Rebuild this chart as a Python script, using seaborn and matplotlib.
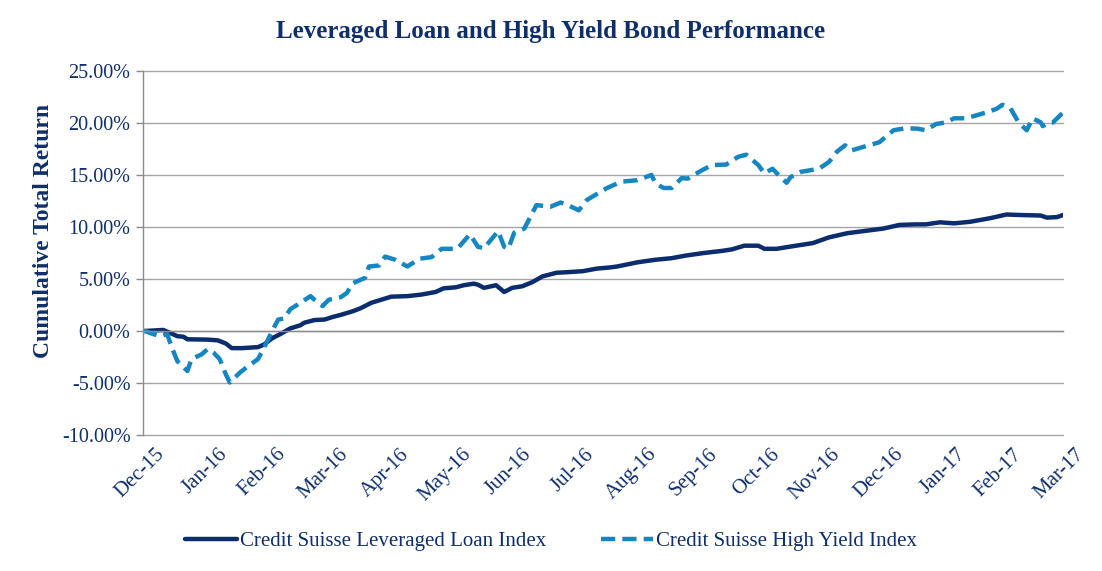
import matplotlib
matplotlib.use('Agg')
import matplotlib.pyplot as plt
import matplotlib.ticker as ticker
import matplotlib.transforms as mtrans
import pandas as pd
import seaborn as sns

sns.set_theme(style='white')
plt.rcParams['font.family'] = ['Liberation Serif', 'DejaVu Serif']

NAVY = '#0f2f6b'
LOAN_COLOR = '#0b2d6e'
HY_COLOR = '#1686c2'

start = pd.Timestamp('2015-12-31')

# days since 2015-12-31 and cumulative return (%)
loan_days = [0, 1, 10, 13, 17, 20, 22, 32, 37, 41, 44, 49, 57, 60, 64, 68, 73, 78,
             80, 85, 90, 94, 98, 104, 108, 113, 118, 123, 131, 138, 145, 149, 155,
             159, 164, 166, 169, 175, 179, 183, 188, 193, 198, 205, 210, 218, 225,
             231, 235, 245, 254, 262, 269, 278, 287, 292, 298, 305, 308, 314, 322,
             332, 340, 349, 359, 367, 375, 383, 388, 395, 402, 410, 420, 428, 435,
             445, 448, 453, 456]
loan_ret = [0.0, 0.0, 0.1, -0.15, -0.5, -0.55, -0.8, -0.83, -0.9, -1.2, -1.65, -1.65,
            -1.55, -1.3, -0.7, -0.3, 0.25, 0.55, 0.8, 1.05, 1.1, 1.35, 1.55, 1.9, 2.2,
            2.7, 3.0, 3.3, 3.35, 3.5, 3.75, 4.1, 4.2, 4.4, 4.55, 4.45, 4.15, 4.4, 3.75,
            4.15, 4.3, 4.7, 5.25, 5.6, 5.65, 5.75, 6.0, 6.1, 6.2, 6.6, 6.85, 7.0, 7.25,
            7.5, 7.7, 7.85, 8.2, 8.2, 7.9, 7.9, 8.15, 8.45, 9.0, 9.4, 9.65, 9.85, 10.2,
            10.25, 10.25, 10.45, 10.35, 10.5, 10.85, 11.2, 11.15, 11.1, 10.9, 10.95,
            11.15]

hy_days = [0, 1, 5, 9, 12, 14, 17, 22, 24, 29, 32, 35, 38, 41, 43, 48, 53, 57, 60,
           64, 67, 70, 73, 78, 83, 85, 89, 92, 98, 101, 104, 110, 112, 117, 120, 125,
           131, 137, 143, 148, 155, 156, 162, 166, 169, 176, 179, 181, 184, 189, 195,
           202, 207, 210, 216, 220, 230, 237, 245, 252, 254, 258, 262, 267, 270, 277,
           282, 289, 295, 299, 305, 308, 312, 316, 319, 321, 326, 335, 340, 344, 348,
           351, 357, 365, 372, 378, 384, 388, 393, 398, 402, 408, 416, 423, 426, 430,
           434, 438, 441, 445, 446, 449, 451, 456]
hy_ret = [0.0, 0.0, -0.3, -0.5, -0.3, -1.45, -2.9, -3.85, -2.7, -2.25, -1.75, -2.1,
          -2.7, -4.15, -4.95, -4.0, -3.25, -2.7, -1.6, 0.0, 1.1, 1.2, 2.1, 2.7, 3.35,
          3.0, 2.4, 3.0, 3.25, 3.65, 4.6, 5.1, 6.2, 6.3, 7.15, 6.85, 6.2, 6.95, 7.1,
          7.9, 7.9, 7.95, 9.3, 8.1, 7.95, 9.6, 8.1, 7.9, 9.45, 9.85, 12.1, 11.95, 12.35,
          12.15, 11.6, 12.6, 13.75, 14.35, 14.5, 15.0, 14.2, 13.75, 13.75, 14.7, 14.65,
          15.45, 15.95, 16.0, 16.75, 16.95, 15.95, 15.15, 15.6, 14.8, 14.25, 14.8, 15.3,
          15.6, 16.25, 17.25, 17.85, 17.35, 17.7, 18.15, 19.3, 19.5, 19.45, 19.3, 19.9,
          20.05, 20.45, 20.45, 20.9, 21.35, 21.75, 21.4, 20.05, 19.3, 20.45, 20.05,
          19.7, 20.05, 20.05, 21.0]

month_labels = ['Dec-15', 'Jan-16', 'Feb-16', 'Mar-16', 'Apr-16', 'May-16', 'Jun-16',
                'Jul-16', 'Aug-16', 'Sep-16', 'Oct-16', 'Nov-16', 'Dec-16', 'Jan-17',
                'Feb-17', 'Mar-17']

loan = pd.DataFrame({'date': start + pd.to_timedelta(loan_days, unit='D'),
                     'ret': [v / 100 for v in loan_ret]})
hy = pd.DataFrame({'date': start + pd.to_timedelta(hy_days, unit='D'),
                   'ret': [v / 100 for v in hy_ret]})
month_ends = pd.date_range('2015-12-31', periods=len(month_labels), freq='ME')

fig = plt.figure(figsize=(11.02, 5.71), dpi=100)
ax = fig.add_axes([0.1298, 0.2382, 0.8348, 0.6375])

sns.lineplot(data=loan, x='date', y='ret', ax=ax, color=LOAN_COLOR, lw=3.2,
             label='Credit Suisse Leveraged Loan Index')
sns.lineplot(data=hy, x='date', y='ret', ax=ax, color=HY_COLOR, lw=3.2,
             label='Credit Suisse High Yield Index')
ax.lines[1].set_dashes([3.2, 1.6])

ax.set_xlim(month_ends[0], month_ends[-1])
ax.set_ylim(-0.10, 0.25)
ax.yaxis.set_major_locator(ticker.MultipleLocator(0.05))
ax.yaxis.set_major_formatter(ticker.FuncFormatter(lambda v, p: f'{v * 100:.2f}%'))
ax.grid(axis='y', color='#a6a6a6', lw=1)
ax.set_axisbelow(True)
fig.canvas.draw()
for gl in ax.get_ygridlines():
    gl.set_clip_on(False)

# category axis crosses at zero, labels stay at the bottom
ax.spines['bottom'].set_position(('data', 0))
for s in ['top', 'right']:
    ax.spines[s].set_visible(False)
for s in ['left', 'bottom']:
    ax.spines[s].set_color('#8c8c8c')
    ax.spines[s].set_linewidth(1)

ax.set_xticks(month_ends)
ax.set_xticklabels(month_labels)
ax.tick_params(axis='x', direction='out', length=5, width=1, color='#8c8c8c',
               pad=77, labelsize=15, labelcolor=NAVY)
ax.tick_params(axis='y', direction='out', length=5, width=1, color='#8c8c8c',
               pad=4, labelsize=14.5, labelcolor=NAVY, left=True)
shift = mtrans.ScaledTranslation(12 / 100, 0, fig.dpi_scale_trans)
for lab in ax.get_xticklabels():
    lab.set_rotation(45)
    lab.set_ha('right')
    lab.set_rotation_mode('anchor')
    lab.set_transform(lab.get_transform() + shift)

ax.set_xlabel('')
ax.set_ylabel('Cumulative Total Return', fontsize=17, fontweight='bold',
              color=NAVY)
ax.yaxis.set_label_coords(-0.097, 0.56)
fig.text(0.5, 0.945, 'Leveraged Loan and High Yield Bond Performance',
         ha='center', va='center', fontsize=18, fontweight='bold', color=NAVY)

leg = ax.legend(loc='center', bbox_to_anchor=(0.5, 0.0525), bbox_transform=fig.transFigure,
                ncol=2, frameon=False, fontsize=15, handlelength=2.5,
                columnspacing=2.6, handletextpad=0.15)
for t in leg.get_texts():
    t.set_color(NAVY)

fig.savefig('out.png', dpi=100)
